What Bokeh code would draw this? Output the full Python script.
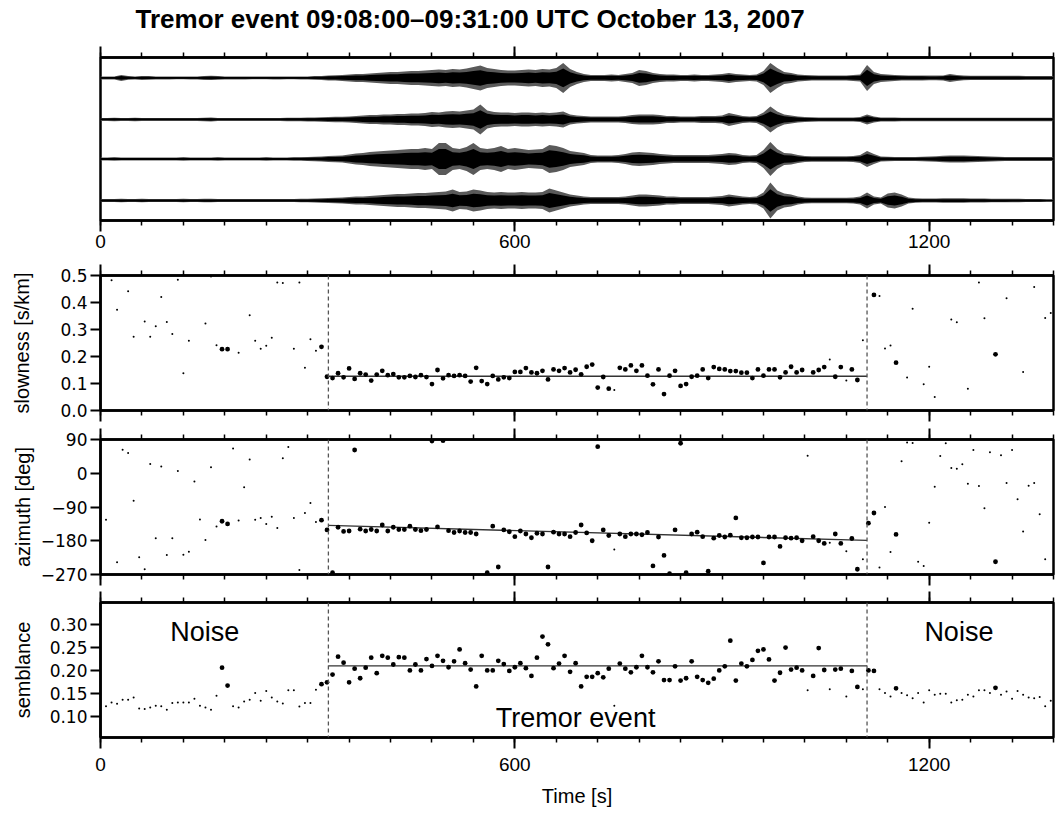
import numpy as np
from bokeh.plotting import figure
from bokeh.models import (LinearAxis, Range1d, FixedTicker, Span, Label,
                          ColumnDataSource, Grid)
from bokeh.layouts import column
from bokeh.embed import file_html
from bokeh.resources import INLINE

FONT = "Liberation Sans"
YFONT = "DejaVu Sans"

# ---------------- data ----------------
title_text = "Tremor event 09:08:00\u201309:31:00 UTC October 13, 2007"
x_ticks = [0, 600, 1200]
x_minor = list(range(0, 1381, 60))
event_start = 330
event_end = 1110

# seismogram envelopes (peak half amplitude, counts), every 10 s from 0 to 1380
env_t = list(range(0, 1381, 10))
trace1 = [
    1.5, 1.5, 1.5, 3.0, 1.8, 1.5, 2.0, 1.8, 1.5, 1.5,
    1.5, 1.3, 1.3, 1.5, 1.5, 2.0, 2.2, 1.8, 1.5, 1.5,
    1.5, 1.5, 1.3, 1.3, 1.3, 1.5, 1.5, 1.3, 1.3, 1.5,
    1.5, 1.8, 2.0, 2.5, 2.7, 3.0, 3.5, 4.0, 4.0, 4.5,
    5.0, 5.5, 6.0, 6.0, 6.5, 7.0, 7.0, 7.5, 8.0, 8.5,
    8.0, 9.0, 8.5, 9.5, 11.0, 12.5, 10.0, 9.0, 8.0, 7.5,
    7.5, 8.0, 8.5, 8.0, 9.0, 8.5, 10.0, 15.0, 9.0, 6.0,
    4.0, 3.0, 3.0, 3.0, 3.5, 3.0, 4.0, 5.0, 8.0, 7.0,
    5.0, 4.0, 3.5, 3.5, 3.0, 3.0, 3.5, 3.0, 3.0, 3.5,
    4.0, 5.0, 4.0, 3.5, 3.0, 3.5, 7.0, 15.0, 10.0, 6.0,
    5.0, 3.5, 3.0, 2.7, 2.5, 2.5, 2.5, 2.5, 2.5, 3.0,
    3.5, 13.0, 6.0, 4.0, 3.5, 3.0, 2.7, 2.5, 2.5, 2.5,
    2.3, 2.3, 2.5, 4.0, 3.0, 2.3, 2.2, 2.2, 2.2, 2.2,
    2.2, 2.2, 2.2, 2.2, 2.0, 2.0, 2.0, 2.0, 2.0]
trace2 = [
    1.5, 1.5, 1.8, 1.5, 1.5, 1.8, 1.5, 1.5, 1.5, 1.5,
    1.5, 1.5, 1.5, 1.5, 1.5, 1.8, 2.0, 1.5, 1.5, 1.5,
    1.5, 1.5, 1.5, 1.5, 1.5, 1.5, 1.5, 1.8, 1.8, 1.8,
    2.0, 2.0, 2.2, 2.5, 2.7, 2.7, 3.0, 3.5, 4.0, 4.5,
    4.5, 5.0, 5.0, 5.5, 5.5, 6.0, 6.0, 6.5, 7.5, 7.0,
    8.0, 8.5, 8.0, 9.0, 10.0, 15.0, 9.0, 7.5, 7.0, 7.0,
    6.5, 7.0, 7.0, 6.5, 7.0, 6.5, 7.0, 8.0, 5.0, 4.0,
    3.5, 3.0, 3.0, 3.0, 3.0, 3.0, 3.5, 4.5, 5.0, 5.0,
    5.0, 4.5, 3.5, 3.5, 3.0, 3.0, 3.0, 3.5, 3.5, 3.5,
    4.0, 6.5, 5.0, 3.5, 3.0, 3.5, 7.0, 13.0, 8.0, 5.0,
    4.0, 3.0, 2.5, 2.2, 2.0, 2.0, 2.0, 2.0, 2.0, 2.0,
    2.5, 5.0, 3.0, 2.0, 2.0, 2.0, 1.8, 1.8, 1.8, 1.8,
    1.8, 1.8, 1.8, 1.8, 1.8, 1.8, 1.8, 1.8, 1.8, 1.8,
    1.8, 1.8, 1.8, 1.8, 1.8, 1.8, 1.8, 1.8, 1.8]
trace3 = [
    1.5, 1.5, 1.8, 1.5, 1.5, 1.5, 1.5, 1.5, 1.5, 1.5,
    1.5, 1.5, 1.8, 1.5, 1.5, 1.5, 1.5, 1.8, 1.5, 1.5,
    1.5, 1.5, 1.5, 1.5, 1.8, 1.5, 1.5, 1.5, 1.8, 1.8,
    2.0, 2.2, 2.5, 3.0, 3.3, 3.5, 4.5, 5.5, 6.0, 7.0,
    7.5, 8.0, 8.5, 9.0, 9.5, 10.0, 10.0, 11.0, 10.0, 16.0,
    16.0, 11.0, 10.0, 12.0, 16.0, 11.0, 10.0, 11.0, 13.0, 10.0,
    11.0, 10.0, 9.0, 9.5, 10.0, 14.0, 13.0, 11.0, 8.0, 7.0,
    6.0, 4.0, 3.5, 3.5, 3.5, 4.0, 5.0, 6.5, 7.0, 6.5,
    6.0, 5.0, 4.5, 4.0, 4.0, 4.0, 4.0, 4.0, 4.0, 4.5,
    5.0, 6.0, 5.5, 4.0, 3.5, 4.0, 9.0, 17.0, 10.0, 6.0,
    5.5, 4.0, 3.0, 2.7, 2.7, 2.7, 2.7, 2.7, 2.7, 3.0,
    4.0, 8.0, 5.0, 2.5, 2.2, 2.0, 2.0, 2.0, 2.0, 2.2,
    2.5, 2.8, 3.2, 3.5, 3.5, 3.5, 3.2, 3.0, 2.7, 2.5,
    2.2, 2.0, 2.0, 2.0, 2.0, 2.0, 2.0, 2.0, 2.0]
trace4 = [
    1.5, 1.5, 1.5, 1.8, 1.5, 1.5, 1.8, 1.5, 1.5, 1.5,
    1.5, 1.5, 1.8, 1.5, 1.5, 1.8, 1.8, 1.5, 1.5, 1.5,
    1.5, 1.5, 1.5, 1.5, 1.5, 1.5, 1.5, 1.5, 1.5, 1.8,
    1.8, 2.0, 2.2, 2.5, 2.7, 3.0, 3.5, 4.0, 4.0, 4.5,
    5.0, 5.5, 6.0, 6.5, 6.5, 7.0, 7.5, 7.5, 8.0, 8.5,
    9.0, 11.0, 8.5, 9.0, 11.0, 10.0, 8.5, 8.0, 8.5, 8.0,
    8.0, 8.5, 8.0, 8.0, 8.5, 12.0, 10.0, 8.0, 6.0, 5.0,
    4.0, 3.5, 3.5, 3.5, 3.5, 3.5, 4.0, 5.0, 6.0, 6.0,
    5.5, 5.0, 4.0, 4.0, 3.5, 3.5, 3.5, 3.5, 3.5, 4.0,
    4.5, 6.0, 5.0, 4.0, 3.5, 4.0, 8.0, 18.0, 10.0, 7.0,
    6.0, 4.0, 3.0, 2.7, 2.7, 2.7, 2.7, 2.7, 2.7, 3.0,
    4.0, 8.0, 4.0, 3.0, 7.0, 8.0, 6.0, 3.0, 2.2, 2.0,
    2.0, 2.0, 2.2, 2.2, 2.2, 2.2, 2.0, 2.0, 2.0, 1.8,
    1.8, 1.8, 1.7, 1.7, 1.5, 1.5, 1.5, 1.3, 1.2]
trace_base = [3.5, 2.48, 1.51, 0.49]

# array-analysis results, one window every 8 s (t = 8 ... 1376)
semblance = [
    .122, .130, .127, .136, .136, .141, .117, .116, .119, .123,   # 8-80
    .122, .114, .129, .130, .130, .130, .138, .123, .119, .114,   # 88-160
    .145, .206, .167, .122, .119, .132, .136, .151, .134, .155,   # 168-240
    .141, .132, .128, .157, .157, .121, .129, .129, .158, .170,   # 248-320
    .174, .191, .230, .217, .174, .204, .183, .206, .228, .194,   # 328-400
    .232, .228, .213, .229, .228, .200, .213, .200, .225, .210,   # 408-480
    .232, .221, .207, .220, .246, .216, .202, .165, .232, .200,   # 488-560
    .200, .221, .214, .199, .207, .216, .205, .188, .228, .274,   # 568-640
    .257, .205, .215, .232, .197, .216, .165, .186, .186, .194,   # 648-720
    .185, .204, .123, .215, .204, .196, .207, .232, .207, .196,   # 728-800
    .220, .179, .179, .209, .178, .183, .220, .186, .179, .173,   # 808-880
    .182, .200, .209, .265, .178, .215, .209, .223, .243, .246,   # 888-960
    .224, .178, .195, .250, .202, .206, .200, .157, .188, .249,   # 968-1040
    .201, .159, .202, .204, .143, .199, .164, .159, .200, .199,   # 1048-1120
    .159, .151, .143, .161, .151, .146, .139, .151, .130, .157,   # 1128-1200
    .147, .149, .149, .130, .135, .136, .147, .143, .157, .157,   # 1208-1280
    .151, .162, .147, .154, .138, .155, .147, .141, .139, .142,   # 1288-1360
    .122, .134]                                                   # 1368-1376

slowness = [
    None, .482, .373, None, .442, .273, None, .330, .273, .312,   # 8-80
    .420, .328, .283, .484, .138, .258, None, None, .322, .496,   # 88-160
    .242, .227, .227, None, .214, None, .353, .258, .229, .240,   # 168-240
    .269, .474, .472, None, .229, .474, .158, .264, .221, .236,   # 248-320
    .125, .120, .138, .123, .156, .117, .138, .133, .111, .133,   # 328-400
    .147, .131, .135, .123, .123, .128, .124, .131, .124, .098,   # 408-480
    .150, .119, .131, .128, .131, .128, .107, .158, .109, .098,   # 488-560
    .128, .115, .123, .120, .143, .143, .157, .141, .138, .147,   # 568-640
    .115, .152, .147, .157, .141, .151, .134, .162, .170, .085,   # 648-720
    .124, .081, .076, .158, .152, .167, .147, .167, .129, .097,   # 728-800
    .152, .061, .129, .147, .091, .098, .125, .129, .152, .120,   # 808-880
    .161, .154, .152, .146, .146, .140, .140, .120, .152, .129,   # 888-960
    .152, .152, .123, .141, .162, .141, .150, None, .141, .150,   # 968-1040
    .161, .189, .125, .161, .111, .152, .113, .260, None, .428,   # 1048-1120
    .424, .230, .241, .177, None, .122, .377, None, .097, .162,   # 1128-1200
    .050, None, None, .337, .327, None, .081, None, .474, .342,   # 1208-1280
    None, .208, None, .416, None, None, .143, None, .457, None,   # 1288-1360
    .343, .361]                                                   # 1368-1376

azimuth = [
    -124, None, -237, 63, 54, -73, -224, -256, 25, -173,          # 8-80
    18, -218, -173, 6, -217, -209, -22, -123, -178, 16,           # 88-160
    -142, -128, -135, 66, -126, -37, 37, -124, -119, -135,        # 168-240
    -116, -146, 40, 70, -119, -258, -106, -79, -130, -125,        # 248-320
    -151, -265, -144, -155, -154, 62, -149, -154, -150, -154,     # 328-400
    -138, -154, -144, -150, -150, -141, -150, -153, -150, 86,     # 408-480
    -143, 87, -153, -158, -154, -158, -158, -162, None, -265,     # 488-560
    -141, -250, -151, -156, -169, -154, -162, -172, -160, -162,   # 568-640
    -250, -157, -162, -162, -169, -158, -138, -159, -180, 71,     # 648-720
    -151, -166, -203, -162, -169, -162, -162, -164, -158, -247,   # 728-800
    -170, -219, -268, -151, 80, -265, -162, -157, -169, -261,     # 808-880
    -173, -166, -170, -165, -119, -172, -172, -170, -170, -239,   # 888-960
    -170, -170, -195, -172, -173, -172, -180, 47, -169, -180,     # 968-1040
    -187, -185, -162, -187, -208, -174, -256, -229, -133, -106,   # 1048-1120
    -251, -90, -210, -163, 32, 82, 81, -236, -247, -132,          # 1128-1200
    -36, 46, 80, 14, 12, 24, -28, 62, -34, -93,                   # 1208-1280
    56, -236, 48, -26, 62, -69, -155, -33, -26, -109,             # 1288-1360
    -229, None]                                                   # 1368-1376

slowness_fit = [0.127, 0.127]
azimuth_fit = [-139, -179]
semblance_fit = [0.21, 0.21]
semblance_threshold = 0.16

# ---------------- helpers ----------------
xr = Range1d(0, 1380)
LEFT = 100
RIGHT = 2
WIDTH = 1055
TITLE_H = 36


def x_axis(show_labels=False, standoff=3):
    ax = LinearAxis(ticker=FixedTicker(ticks=x_ticks, minor_ticks=x_minor))
    ax.axis_line_width = 2.5
    ax.axis_line_color = "black"
    ax.major_tick_out = 11
    ax.major_tick_in = 0
    ax.minor_tick_out = 5
    ax.minor_tick_in = 0
    ax.major_tick_line_width = 2
    ax.minor_tick_line_width = 1.5
    if show_labels:
        ax.major_label_text_font = FONT
        ax.major_label_text_font_size = "19px"
        ax.major_label_text_color = "black"
        ax.major_label_standoff = standoff
    else:
        ax.major_label_overrides = {t: "" for t in x_ticks}
        ax.major_label_text_font_size = "1px"
        ax.major_label_standoff = 0
    return ax


def y_axis(ticks, labels, title, title_standoff):
    ax = LinearAxis(ticker=FixedTicker(ticks=ticks))
    ax.major_label_overrides = {t: l for t, l in zip(ticks, labels)}
    ax.axis_line_width = 2.5
    ax.major_tick_out = 10
    ax.major_tick_in = 0
    ax.minor_tick_out = 0
    ax.minor_tick_in = 0
    ax.major_tick_line_width = 2
    ax.major_label_text_font = YFONT
    ax.major_label_text_font_size = "17px"
    ax.major_label_text_color = "black"
    ax.major_label_standoff = 3
    ax.axis_label = title
    ax.axis_label_text_font = FONT
    ax.axis_label_text_font_size = "20px"
    ax.axis_label_text_font_style = "normal"
    ax.axis_label_text_color = "black"
    ax.axis_label_standoff = title_standoff
    return ax


def base_fig(h, top, bottom, y0, y1):
    p = figure(width=WIDTH, height=h, x_range=xr, y_range=Range1d(y0, y1),
               output_backend="svg", toolbar_location=None,
               x_axis_location=None, y_axis_location=None,
               min_border_left=LEFT, min_border_right=RIGHT,
               min_border_top=top, min_border_bottom=bottom)
    p.outline_line_color = "black"
    p.outline_line_width = 2.5
    p.outline_line_alpha = 1.0
    p.background_fill_color = "white"
    p.border_fill_color = "white"
    p.add_layout(x_axis(False), "above")
    for g in p.select(type=Grid):
        g.visible = False
    return p


# ---------------- title strip (frame aligned with the panels) ----------------
frame_w = WIDTH - LEFT - RIGHT
pt = figure(width=WIDTH, height=TITLE_H, x_range=Range1d(0, frame_w),
            y_range=Range1d(0, TITLE_H), output_backend="svg",
            toolbar_location=None, x_axis_location=None, y_axis_location=None,
            min_border_left=LEFT, min_border_right=RIGHT,
            min_border_top=0, min_border_bottom=0)
pt.outline_line_color = None
pt.background_fill_color = "white"
pt.border_fill_color = "white"
for g in pt.select(type=Grid):
    g.visible = False
pt.add_layout(Label(x=35, y=TITLE_H / 2, text=title_text, text_font=FONT,
                    text_font_size="26px", text_font_style="bold",
                    text_color="black", text_align="left",
                    text_baseline="middle"))

# ---------------- panel 1: seismograms ----------------
p1 = base_fig(260 - TITLE_H, 57 - TITLE_H, 40, 0, 4)
p1.add_layout(x_axis(True, 3), "below")
t_env = np.array(env_t, dtype=float)
px_per_unit = 163.0 / 4.0
for tr, b in zip([trace1, trace2, trace3, trace4], trace_base):
    a = np.array(tr, dtype=float) / px_per_unit
    # peak envelope (thin spikes, grey) and dense core (black)
    p1.varea(x=t_env, y1=b - a, y2=b + a, fill_color="#5a5a5a")
    p1.varea(x=t_env, y1=b - 0.62 * a, y2=b + 0.62 * a, fill_color="black")
    p1.line(x=[0, 1380], y=[b, b], line_color="black", line_width=1.2)

# ---------------- common point source ----------------
n = len(semblance)
times = [8 * (i + 1) for i in range(n)]
sem_arr = np.array(semblance, dtype=float)
sizes = np.where(sem_arr >= semblance_threshold, 4.8, 2.0)


def series_src(vals):
    v = np.array(vals, dtype=float)
    m = ~np.isnan(v)
    return ColumnDataSource(dict(t=np.array(times[:len(v)])[m], v=v[m],
                                 s=sizes[:len(v)][m]))


def add_event_marks(p, fit):
    for loc in (event_start, event_end):
        p.add_layout(Span(location=loc, dimension="height", line_color="#555555",
                          line_width=1.3, line_dash="4 3"))
    p.line(x=[event_start, event_end], y=fit, line_color="#333333", line_width=1.4)


# ---------------- panel 2: slowness ----------------
p2 = base_fig(164, 15, 14, 0, 0.5)
p2.add_layout(x_axis(False), "below")
p2.add_layout(y_axis([0, 0.1, 0.2, 0.3, 0.4, 0.5],
                     ["0.0", "0.1", "0.2", "0.3", "0.4", "0.5"],
                     "slowness [s/km]", 24), "left")
add_event_marks(p2, slowness_fit)
p2.scatter(x="t", y="v", size="s", source=series_src(slowness),
           fill_color="black", line_color=None)

# ---------------- panel 3: azimuth ----------------
p3 = base_fig(164, 15, 14, -270, 90)
p3.add_layout(x_axis(False), "below")
p3.add_layout(y_axis([-270, -180, -90, 0, 90],
                     ["\u2212270", "\u2212180", "\u221290", "0", "90"],
                     "azimuth [deg]", 4), "left")
add_event_marks(p3, azimuth_fit)
p3.scatter(x="t", y="v", size="s", source=series_src(azimuth),
           fill_color="black", line_color=None)

# ---------------- panel 4: semblance ----------------
p4 = base_fig(227, 14, 78, 0.0535, 0.3485)
xb = x_axis(True, 9)
xb.axis_label = "Time [s]"
xb.axis_label_text_font = FONT
xb.axis_label_text_font_size = "20px"
xb.axis_label_text_font_style = "normal"
xb.axis_label_text_color = "black"
xb.axis_label_standoff = 11
p4.add_layout(xb, "below")
p4.add_layout(y_axis([0.10, 0.15, 0.20, 0.25, 0.30],
                     ["0.10", "0.15", "0.20", "0.25", "0.30"],
                     "semblance", 13), "left")
add_event_marks(p4, semblance_fit)
p4.scatter(x="t", y="v", size="s", source=series_src(semblance),
           fill_color="black", line_color=None)
for x, y, txt in [(151, 0.2835, "Noise"), (1243, 0.2835, "Noise"),
                  (688, 0.0972, "Tremor event")]:
    p4.add_layout(Label(x=x, y=y, text=txt, text_font=FONT, text_font_size="27px",
                        text_align="center", text_baseline="middle",
                        text_color="black"))

layout = column(pt, p1, p2, p3, p4, spacing=0)
open("out.html", "w").write(file_html(layout, INLINE))
